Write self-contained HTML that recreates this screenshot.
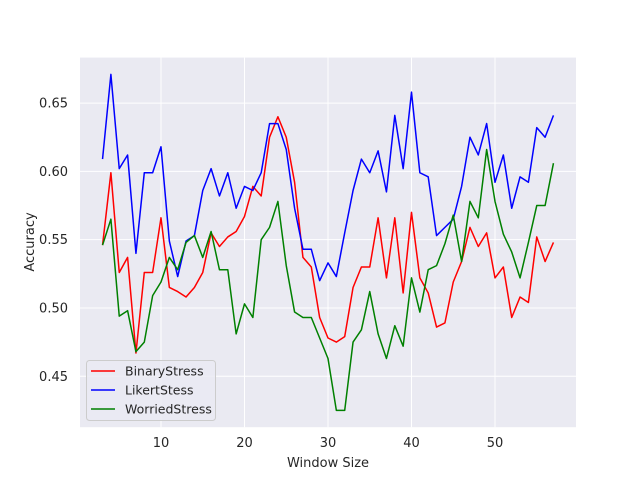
<!DOCTYPE html>
<html><head><meta charset="utf-8"><style>
body{margin:0;background:#fff;}
svg{display:block;font-family:"DejaVu Sans","Liberation Sans",sans-serif;}
</style></head><body>
<svg id="chart" width="640" height="480">
<rect x="80" y="57.6" width="496" height="369.6" fill="#eaeaf2"/>
<g id="grid"></g><g id="ticks"></g><g id="series"></g>
<text x="328" y="467" font-size="13" fill="#262626" text-anchor="middle">Window Size</text>
<text transform="translate(34,242) rotate(-90)" font-size="13" fill="#262626" text-anchor="middle">Accuracy</text>
<g id="legend">
<rect x="86.5" y="360.5" width="129" height="60" rx="3" fill="#eaeaf2" fill-opacity="0.8" stroke="#cccccc"/>
</g>
</svg>
<script>
const xs = [];for(let i=3;i<=57;i++)xs.push(i);
const binary = [0.546,0.599,0.526,0.537,0.467,0.526,0.526,0.566,0.515,0.512,0.508,0.515,0.526,0.555,0.545,0.552,0.556,0.567,0.589,0.582,0.625,0.640,0.625,0.592,0.537,0.530,0.493,0.478,0.475,0.479,0.515,0.530,0.530,0.566,0.522,0.566,0.511,0.570,0.522,0.511,0.486,0.489,0.519,0.534,0.559,0.545,0.555,0.522,0.530,0.493,0.508,0.504,0.552,0.534,0.548];
const likert = [0.609,0.671,0.602,0.612,0.540,0.599,0.599,0.618,0.549,0.523,0.549,0.553,0.586,0.602,0.582,0.599,0.573,0.589,0.586,0.599,0.635,0.635,0.616,0.573,0.543,0.543,0.520,0.533,0.523,0.555,0.586,0.609,0.599,0.615,0.585,0.641,0.602,0.658,0.599,0.596,0.553,0.559,0.565,0.589,0.625,0.612,0.635,0.592,0.612,0.573,0.596,0.592,0.632,0.625,0.641];
const worried = [0.546,0.565,0.494,0.498,0.468,0.475,0.509,0.519,0.537,0.528,0.548,0.553,0.537,0.556,0.528,0.528,0.481,0.503,0.493,0.550,0.559,0.578,0.531,0.497,0.493,0.493,0.478,0.463,0.425,0.425,0.475,0.484,0.512,0.481,0.463,0.487,0.472,0.522,0.497,0.528,0.531,0.547,0.568,0.534,0.578,0.566,0.616,0.578,0.554,0.541,0.522,0.548,0.575,0.575,0.606];
const xTicks = [10,20,30,40,50];
const yTicks = [0.45,0.50,0.55,0.60,0.65];
const seriesNames = ["BinaryStress","LikertStess","WorriedStress"];
const NS="http://www.w3.org/2000/svg";
const X0=80,X1=576,Y0=57.6,Y1=427.2;
const xmin=0.3,xmax=59.7,ymin=0.4127,ymax=0.6833;
const sx=v=>X0+(v-xmin)/(xmax-xmin)*(X1-X0);
const sy=v=>Y1-(v-ymin)/(ymax-ymin)*(Y1-Y0);
function mk(tag,attrs,parent){const e=document.createElementNS(NS,tag);for(const k in attrs)e.setAttribute(k,attrs[k]);parent.appendChild(e);return e;}
const grid=document.getElementById('grid'),ticks=document.getElementById('ticks');
xTicks.forEach(t=>{
 const l=mk('line',{x1:sx(t),x2:sx(t),y1:Y0,y2:Y1,stroke:'#fff','stroke-width':1},grid);
 
 
 const tx=mk('text',{x:sx(t),y:Y1+20,'font-size':13,fill:'#262626','text-anchor':'middle'},ticks);
 tx.textContent=t;
 
 
});
yTicks.forEach(t=>{
 const l=mk('line',{x1:X0,x2:X1,y1:sy(t),y2:sy(t),stroke:'#fff','stroke-width':1},grid);
 
 
 const tx=mk('text',{x:X0-12,y:sy(t)+4.5,'font-size':13,fill:'#262626','text-anchor':'end'},ticks);
 tx.textContent=t.toFixed(2);
 
 
});
const sg=document.getElementById('series');
const colors=['#ff0000','#0000ff','#008000'];
[binary,likert,worried].forEach((arr,i)=>{
 const p=mk('polyline',{points:arr.map((v,j)=>sx(xs[j])+','+sy(v)).join(' '),fill:'none',stroke:colors[i],'stroke-width':1.5,'stroke-linejoin':'round'},sg);
 
 
});
const lg=document.getElementById('legend');
seriesNames.forEach((n,i)=>{
 const y=371+i*19;
 const l=mk('line',{x1:91,x2:115,y1:y,y2:y,stroke:colors[i],'stroke-width':1.5},lg);
 
 
 const t=mk('text',{x:125,y:y+4.5,'font-size':12.5,fill:'#262626'},lg);
 t.textContent=n;
 
 
});
</script>
</body></html>
